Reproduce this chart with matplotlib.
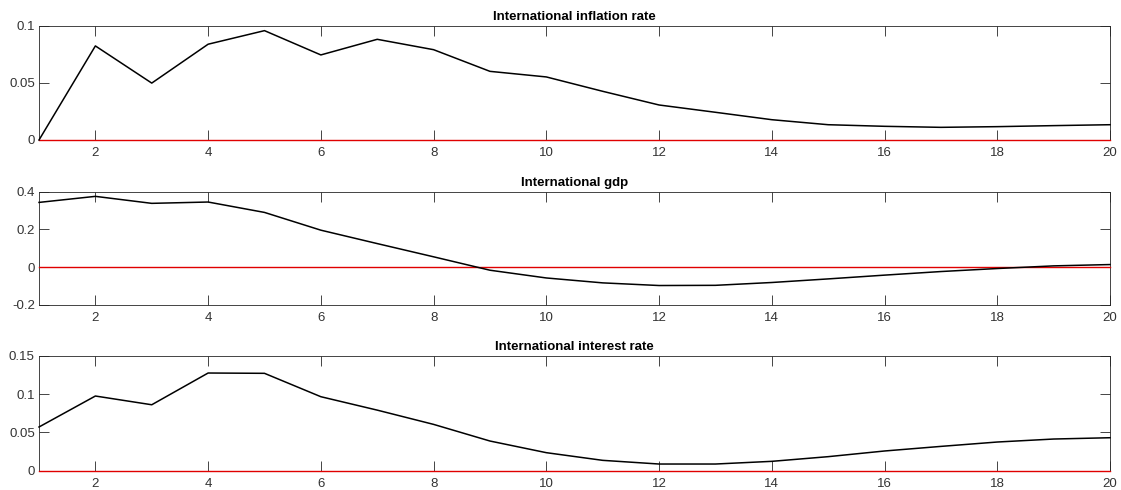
import matplotlib.pyplot as plt
from matplotlib.ticker import FixedLocator

# Impulse responses over 20 periods
periods = list(range(1, 21))

inflation = [0.0, 0.0825, 0.0499, 0.084, 0.0959, 0.0746, 0.0883, 0.0792, 0.0602, 0.0553,
             0.0427, 0.0307, 0.0243, 0.0178, 0.0134, 0.0120, 0.0111, 0.0117, 0.0126, 0.0134]
gdp = [0.343, 0.375, 0.338, 0.345, 0.290, 0.196, 0.125, 0.055, -0.016, -0.057,
       -0.083, -0.097, -0.096, -0.081, -0.062, -0.042, -0.023, -0.007, 0.007, 0.014]
interest = [0.057, 0.0974, 0.086, 0.1274, 0.127, 0.0965, 0.079, 0.0604, 0.0387, 0.0235,
            0.0135, 0.0087, 0.0087, 0.0122, 0.0183, 0.0257, 0.0317, 0.0374, 0.0413, 0.043]

titles = ['International inflation rate', 'International gdp', 'International interest rate']
series = [inflation, gdp, interest]
ylims = [(0, 0.1), (-0.2, 0.4), (0, 0.15)]
yticks = [[0, 0.05, 0.1], [-0.2, 0, 0.2, 0.4], [0, 0.05, 0.1, 0.15]]
ytick_labels = [['0', '0.05', '0.1'], ['-0.2', '0', '0.2', '0.4'], ['0', '0.05', '0.1', '0.15']]
xticks = list(range(2, 21, 2))

plt.rcParams['font.family'] = ['Liberation Sans', 'DejaVu Sans']

fig = plt.figure(figsize=(11.21, 4.9), dpi=100)
fig.patch.set_facecolor('white')

# axes rectangles: left, bottom, width, height
positions = [
    [0.0348, 0.7143, 0.9554, 0.2327],
    [0.0348, 0.3776, 0.9554, 0.2313],
    [0.0348, 0.0394, 0.9554, 0.2347],
]

edge = '#262626'
for pos, title, values, ylim, yt, ytl in zip(positions, titles, series, ylims, yticks, ytick_labels):
    ax = fig.add_axes(pos)
    ax.plot(periods, [0] * len(periods), color='#e00000', linewidth=1.0, zorder=4, clip_on=False)
    ax.plot(periods, values, color='black', linewidth=1.1, zorder=5, clip_on=False)
    ax.set_xlim(1, 20)
    ax.set_ylim(*ylim)
    ax.xaxis.set_major_locator(FixedLocator(xticks))
    ax.set_xticklabels([str(t) for t in xticks])
    ax.set_yticks(yt)
    ax.set_yticklabels(ytl)
    ax.tick_params(direction='in', length=7.5, width=0.6, color=edge,
                   labelsize=9.5, labelcolor='#333333', top=True, right=True)
    ax.tick_params(axis='x', pad=5)
    ax.tick_params(axis='y', pad=3)
    for sp in ax.spines.values():
        sp.set_color(edge)
        sp.set_linewidth(0.6)
    ax.set_title(title, fontsize=9.5, fontweight='bold', pad=4)

fig.savefig('out.png', dpi=100)
